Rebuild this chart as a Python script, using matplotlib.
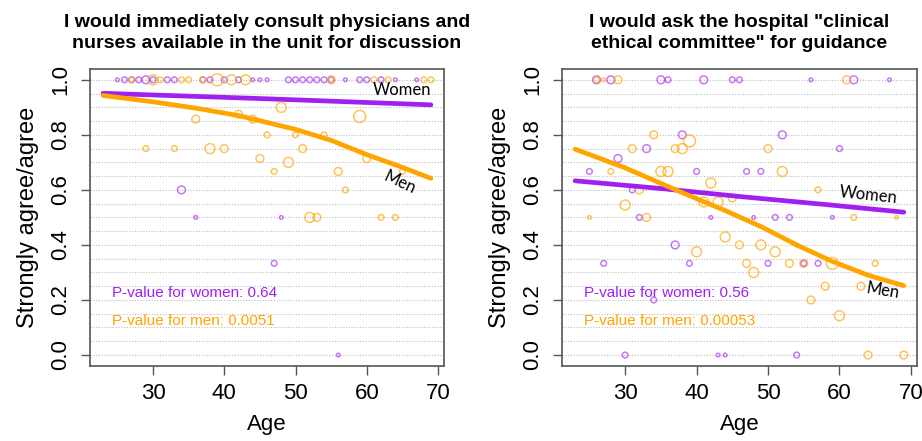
import matplotlib
matplotlib.use('Agg')
import numpy as np
import matplotlib.pyplot as plt
import matplotlib as mpl

# ---- data ----
titles = ['I would immediately consult physicians and\nnurses available in the unit for discussion',
          'I would ask the hospital "clinical\nethical committee" for guidance']
pvals_women = ['0.64', '0.56']
pvals_men = ['0.0051', '0.00053']

# left panel: women
l_w_age = [25, 26, 27, 28, 29, 30, 32, 33, 37, 38, 40, 42, 44, 45, 46, 49, 50, 51, 52, 53, 54,
           55, 57, 59, 60, 62, 64, 67, 34, 36, 48, 47, 56]
l_w_val = [1.0] * 28 + [0.6, 0.5, 0.5, 0.333, 0.0]
l_w_n = [1, 2, 2, 2, 3, 2, 2, 2, 2, 2, 2, 2, 1, 1, 1, 2, 2, 2, 2, 2, 2,
         2, 1, 2, 2, 2, 1, 1, 3, 1, 1, 2, 1]
# left panel: men
l_m_age = [27, 30, 31, 34, 35, 37, 39, 41, 43, 55, 61, 63, 68, 69,
           36, 42, 44, 48, 59, 46, 50, 54, 29, 33, 38, 40, 51, 45, 49, 60, 47, 56, 65,
           57, 52, 53, 62, 64]
l_m_val = [1.0] * 14 + [0.857, 0.875, 0.857, 0.9, 0.867, 0.8, 0.8, 0.8, 0.75, 0.75, 0.75, 0.75,
                        0.75, 0.714, 0.70, 0.714, 0.667, 0.667, 0.667, 0.6, 0.5, 0.5, 0.5, 0.5]
l_m_n = [2, 4, 2, 2, 2, 2, 5, 4, 4, 3, 2, 2, 2, 2,
         3, 3, 3, 4, 5, 2, 2, 2, 2, 2, 4, 3, 3, 3, 4, 3, 2, 3, 2,
         2, 4, 3, 2, 2]

# right panel: women
r_w_age = [26, 28, 35, 36, 41, 45, 46, 56, 62, 67,
           38, 52, 33, 60, 29, 25, 40, 47, 49, 31, 32, 42, 48, 51, 53, 59,
           37, 27, 39, 50, 55, 57, 34, 30, 43, 44, 54]
r_w_val = [1.0] * 10 + [0.8, 0.8, 0.75, 0.75, 0.714, 0.667, 0.667, 0.667, 0.667, 0.6,
                        0.5, 0.5, 0.5, 0.5, 0.5, 0.5, 0.4, 0.333, 0.333, 0.333, 0.333,
                        0.333, 0.2, 0.0, 0.0, 0.0, 0.0]
r_w_n = [3, 3, 3, 2, 3, 2, 2, 1, 3, 1,
         3, 3, 3, 2, 3, 2, 2, 2, 2, 2, 2, 1, 1, 2, 2, 1,
         3, 2, 2, 2, 2, 2, 2, 2, 1, 1, 2]
# right panel: men
r_m_age = [26, 27, 29, 61,
           34, 39, 31, 37, 38, 50, 28, 35, 36, 52, 42, 32, 57, 30, 41, 43, 45,
           25, 33, 62, 68, 44, 46, 49, 54, 40, 51, 47, 53, 55, 59, 65, 48, 58, 63,
           56, 60, 64, 69]
r_m_val = [1.0] * 4 + [0.8, 0.778, 0.75, 0.75, 0.75, 0.75, 0.667, 0.667, 0.667, 0.667,
                       0.625, 0.6, 0.6, 0.545, 0.556, 0.556, 0.571,
                       0.5, 0.5, 0.5, 0.5, 0.429, 0.4, 0.4, 0.4, 0.375, 0.375,
                       0.333, 0.333, 0.333, 0.333, 0.333, 0.30, 0.25, 0.25,
                       0.2, 0.143, 0.0, 0.0]
r_m_n = [2, 1, 3, 3,
         3, 5, 3, 3, 4, 3, 2, 4, 4, 4, 4, 3, 2, 4, 4, 4, 3,
         1, 3, 2, 1, 4, 3, 4, 1, 4, 4, 3, 3, 3, 5, 2, 4, 3, 3,
         3, 4, 3, 3]

# fitted curves
l_w_fit_age = [23, 46, 69]
l_w_fit = [0.951, 0.931, 0.909]
l_m_fit_age = [23, 30, 36, 42, 50, 55, 60, 65, 69]
l_m_fit = [0.943, 0.920, 0.897, 0.870, 0.820, 0.780, 0.728, 0.682, 0.642]
r_w_fit_age = [23, 35, 46, 58, 69]
r_w_fit = [0.633, 0.605, 0.576, 0.547, 0.519]
r_m_fit_age = [23, 30, 38, 44, 49, 54, 59, 64, 69]
r_m_fit = [0.748, 0.680, 0.590, 0.525, 0.467, 0.400, 0.340, 0.290, 0.252]

panels = [
    dict(w=(l_w_age, l_w_val, l_w_n), m=(l_m_age, l_m_val, l_m_n),
         wf=(l_w_fit_age, l_w_fit), mf=(l_m_fit_age, l_m_fit),
         wlab=(65.0, 0.963, 0), mlab=(64.6, 0.628, -25)),
    dict(w=(r_w_age, r_w_val, r_w_n), m=(r_m_age, r_m_val, r_m_n),
         wf=(r_w_fit_age, r_w_fit), mf=(r_m_fit_age, r_m_fit),
         wlab=(64.1, 0.581, -6), mlab=(66.0, 0.235, -9)),
]

PURPLE = '#A020F0'
ORANGE = '#FFA500'
NARROW = ['Liberation Sans Narrow', 'Liberation Sans', 'DejaVu Sans']


def size(n):
    d_px = 1.5 + 2.1 * np.asarray(n)
    return (d_px * 0.72) ** 2


def init():
    mpl.rcParams['font.family'] = NARROW
    fig = plt.figure(figsize=(9.22, 4.41), dpi=100)
    ax1 = fig.add_axes([0.0976, 0.170, 0.384, 0.674])
    ax2 = fig.add_axes([0.6095, 0.170, 0.385, 0.674])
    return fig, (ax1, ax2)


def plot():
    fig, axes = init()
    for i, (ax, p) in enumerate(zip(axes, panels)):
        for yv in np.arange(0, 1.0001, 0.05):
            ax.axhline(yv, ls=(0, (1, 1.5)), color='#bdbdbd', lw=0.8, zorder=0)
        a, v, n = p['w']
        ax.scatter(a, v, s=size(n), facecolors='none', edgecolors=PURPLE,
                   linewidths=1.1, alpha=0.6, zorder=2)
        a, v, n = p['m']
        ax.scatter(a, v, s=size(n), facecolors='none', edgecolors=ORANGE,
                   linewidths=1.1, alpha=0.65, zorder=2)
        ax.plot(*p['wf'], color=PURPLE, lw=3.4, solid_capstyle='round', zorder=3)
        ax.plot(*p['mf'], color=ORANGE, lw=3.4, solid_capstyle='round', zorder=3)

        x, y, r = p['wlab']
        ax.text(x, y, 'Women', fontsize=12, family='Lato', rotation=r,
                ha='center', va='center', zorder=4)
        x, y, r = p['mlab']
        ax.text(x, y, 'Men', fontsize=12, family='Lato', rotation=r,
                ha='center', va='center', zorder=4)
        ax.text(24.3, 0.225, 'P-value for women: ' + pvals_women[i], color=PURPLE,
                fontsize=11, family='Liberation Sans', ha='left', va='center')
        ax.text(24.3, 0.125, 'P-value for men: ' + pvals_men[i], color=ORANGE,
                fontsize=11, family='Liberation Sans', ha='left', va='center')

        ax.set_xlim(21.16, 70.84)
        ax.set_ylim(-0.04, 1.04)
        ax.set_xticks([30, 40, 50, 60, 70])
        ax.set_yticks([0.0, 0.2, 0.4, 0.6, 0.8, 1.0])
        ax.set_yticklabels(['0.0', '0.2', '0.4', '0.6', '0.8', '1.0'])
        ax.tick_params(axis='both', labelsize=16, length=6.5, width=1.0,
                       color='#555555', direction='out')
        ax.tick_params(axis='x', pad=6)
        ax.tick_params(axis='y', pad=7, labelrotation=90)
        for lab in ax.get_yticklabels():
            lab.set_va('center')
        for sp in ax.spines.values():
            sp.set_color('#555555')
            sp.set_linewidth(1.2)
        ax.set_xlabel('Age', fontsize=16, labelpad=7)
        ax.set_ylabel('Strongly agree/agree', fontsize=17, labelpad=8)
        ax.set_title(titles[i], fontsize=14, fontweight='bold', pad=15,
                     linespacing=1.3)

    plt.savefig('out.png', dpi=100)


if __name__ == '__main__':
    plot()
